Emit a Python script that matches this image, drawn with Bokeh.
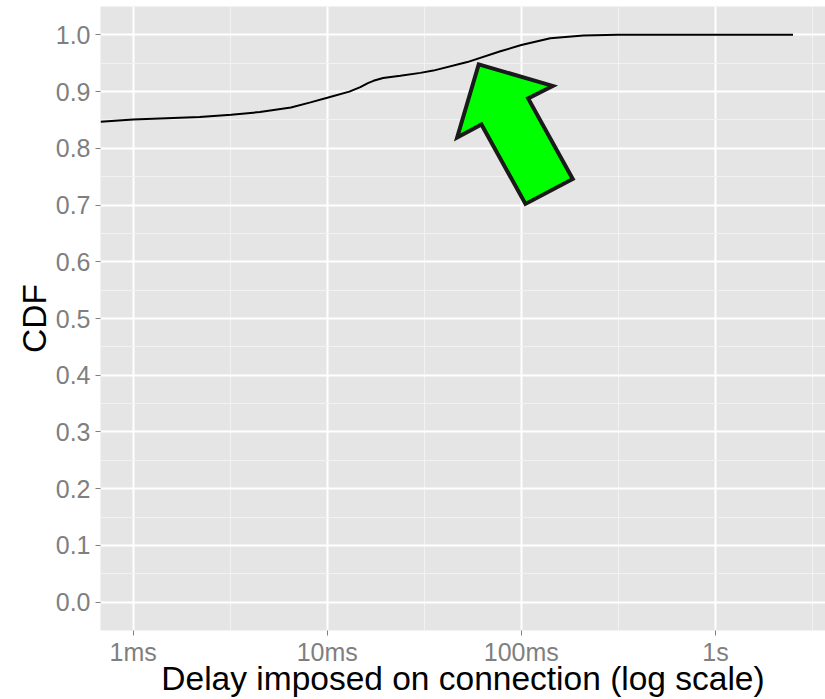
from bokeh.plotting import figure
from bokeh.models import FixedTicker, Range1d, ColumnDataSource, NumeralTickFormatter
from bokeh.embed import file_html
from bokeh.resources import INLINE

# CDF of the delay imposed on each connection (delay in milliseconds)
delay_ms = [0.68, 1.0, 2.2, 3.2, 4.5, 6.5, 8.2, 10.0, 13.0, 14.8, 16.2, 17.3,
            19.4, 23.8, 30.2, 35.2, 52.7, 78.0, 100.0, 141.0, 209.0, 313.0,
            2510.0]
cdf = [0.847, 0.851, 0.855, 0.859, 0.864, 0.872, 0.881, 0.889, 0.900, 0.908,
       0.915, 0.919, 0.924, 0.928, 0.933, 0.937, 0.952, 0.971, 0.982, 0.994,
       0.999, 1.000, 1.000]

# x ticks and their labels
x_ticks = [1, 10, 100, 1000]
x_tick_labels = ["1ms", "10ms", "100ms", "1s"]
x_minor = [0.316, 3.16, 31.6, 316.0, 3162.0]
y_ticks = [0.0, 0.1, 0.2, 0.3, 0.4, 0.5, 0.6, 0.7, 0.8, 0.9, 1.0]
y_minor = [0.05, 0.15, 0.25, 0.35, 0.45, 0.55, 0.65, 0.75, 0.85, 0.95]

# highlight arrow outline (delay in ms, CDF)
arrow_x = [60.3, 145.1, 108.4, 184.0, 105.0, 62.3, 46.7]
arrow_y = [0.948, 0.910, 0.888, 0.746, 0.702, 0.842, 0.819]

FONT = "Liberation Sans"
GREY_TEXT = "#7F7F7F"

p = figure(width=825, height=699, x_axis_type="log",
           x_range=Range1d(0.679, 3690.0), y_range=Range1d(-0.05, 1.05),
           output_backend="svg", toolbar_location=None,
           min_border_left=100, min_border_right=0,
           min_border_top=6, min_border_bottom=69)

p.background_fill_color = "#E5E5E5"
p.border_fill_color = "white"
p.outline_line_color = None

# grid
p.xgrid.ticker = FixedTicker(ticks=x_ticks, minor_ticks=x_minor)
p.ygrid.ticker = FixedTicker(ticks=y_ticks, minor_ticks=y_minor)
for g in (p.xgrid, p.ygrid):
    g.grid_line_color = "white"
    g.grid_line_width = 2
    g.minor_grid_line_color = "#F2F2F2"
    g.minor_grid_line_width = 1

# axes
p.xaxis.ticker = FixedTicker(ticks=x_ticks)
p.xaxis.major_label_overrides = {t: lab for t, lab in zip(x_ticks, x_tick_labels)}
p.yaxis.ticker = FixedTicker(ticks=y_ticks)
p.yaxis.formatter = NumeralTickFormatter(format="0.0")
p.xaxis.axis_label = "Delay imposed on connection (log scale)"
p.yaxis.axis_label = "CDF"
for ax in (p.xaxis, p.yaxis):
    ax.axis_line_color = None
    ax.major_tick_line_color = GREY_TEXT
    ax.major_tick_line_width = 1
    ax.major_tick_out = 5
    ax.major_tick_in = 0
    ax.minor_tick_line_color = None
    ax.major_label_text_font = FONT
    ax.major_label_text_font_size = "25px"
    ax.major_label_text_color = GREY_TEXT
    ax.axis_label_text_font = FONT
    ax.axis_label_text_font_size = "33.5px"
    ax.axis_label_text_font_style = "normal"
    ax.axis_label_text_color = "black"
p.xaxis.major_label_standoff = 2
p.xaxis.axis_label_standoff = -9
p.yaxis.major_label_standoff = 5
p.yaxis.axis_label_standoff = 0

# CDF curve
src = ColumnDataSource(dict(x=delay_ms, y=cdf))
p.line("x", "y", source=src, line_color="black", line_width=2)

# highlight arrow
p.patch(arrow_x, arrow_y, fill_color="#00FF00", line_color="#1A1A1A",
        line_width=4, line_join="miter")

open("out.html", "w").write(file_html(p, INLINE))
